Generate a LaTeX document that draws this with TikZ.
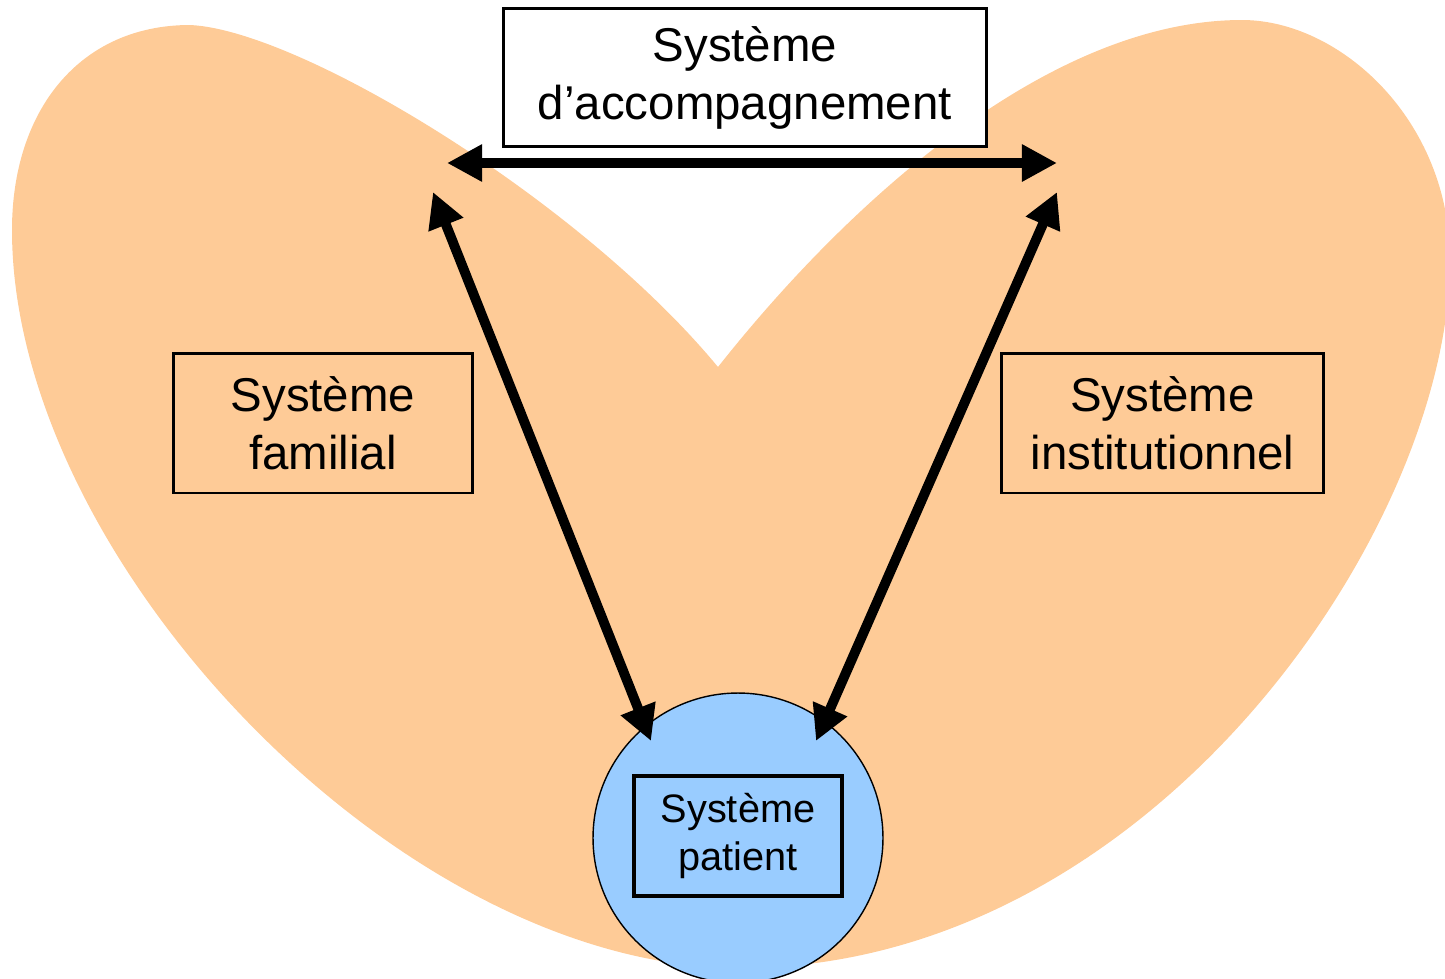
\documentclass[tikz,border=0pt]{standalone}
\usepackage{fontspec}
\setmainfont{Liberation Sans}
\usetikzlibrary{arrows.meta}
\definecolor{peach}{RGB}{254,203,151}
\definecolor{skyblue}{RGB}{153,204,255}
\begin{document}
\begin{tikzpicture}[x=0.02cm,y=-0.02cm,
  sysbox/.style={draw=black, line width=1.7pt, align=center, inner sep=0pt,
    font=\fontsize{27}{33}\selectfont},
  patbox/.style={draw=black, line width=2.2pt, align=center, inner sep=0pt,
    font=\fontsize{22.6}{27.5}\selectfont},
  biarrow/.style={line width=5.6pt,
    {Triangle[length=20pt,width=20pt]}-{Triangle[length=20pt,width=20pt]}}]
\useasboundingbox (0,0) rectangle (1445,978);
\clip (0,0) rectangle (1445,978);
% heart-shaped background
\fill[peach] (718,367) .. controls (580,200) and (300,30) .. (190,25)
  .. controls (80,25) and (12,110) .. (12,230)
  .. controls (12,560) and (400,968) .. (740,968)
  .. controls (1150,968) and (1450,530) .. (1450,260)
  .. controls (1450,120) and (1340,20) .. (1242,20)
  .. controls (1050,20) and (850,200) .. (718,367) -- cycle;
% boxes
\node[sysbox, fill=white, minimum width=9.68cm, minimum height=2.78cm] (accomp) at (745,77.5) {Système\\d’accompagnement};
\node[sysbox, minimum width=6cm, minimum height=2.8cm] (famil) at (323,423) {Système\\familial};
\node[sysbox, minimum width=6.46cm, minimum height=2.8cm] (instit) at (1162.5,423) {Système\\institutionnel};
\node[circle, draw=black, line width=0.8pt, fill=skyblue, minimum size=5.8cm, inner sep=0pt] (patcircle) at (738,838) {};
\node[patbox, minimum width=4.16cm, minimum height=2.4cm] (patient) at (738,836) {Système\\patient};
% arrow end points
\coordinate (accL) at (447,163);
\coordinate (accR) at (1057,163);
\coordinate (famTip) at (433,192);
\coordinate (instTip) at (1057,192);
\coordinate (patL) at (651,741);
\coordinate (patR) at (816,741);
\draw[biarrow] (accL) -- (accR);
\draw[biarrow] (famTip) -- (patL);
\draw[biarrow] (instTip) -- (patR);
\end{tikzpicture}
\end{document}
